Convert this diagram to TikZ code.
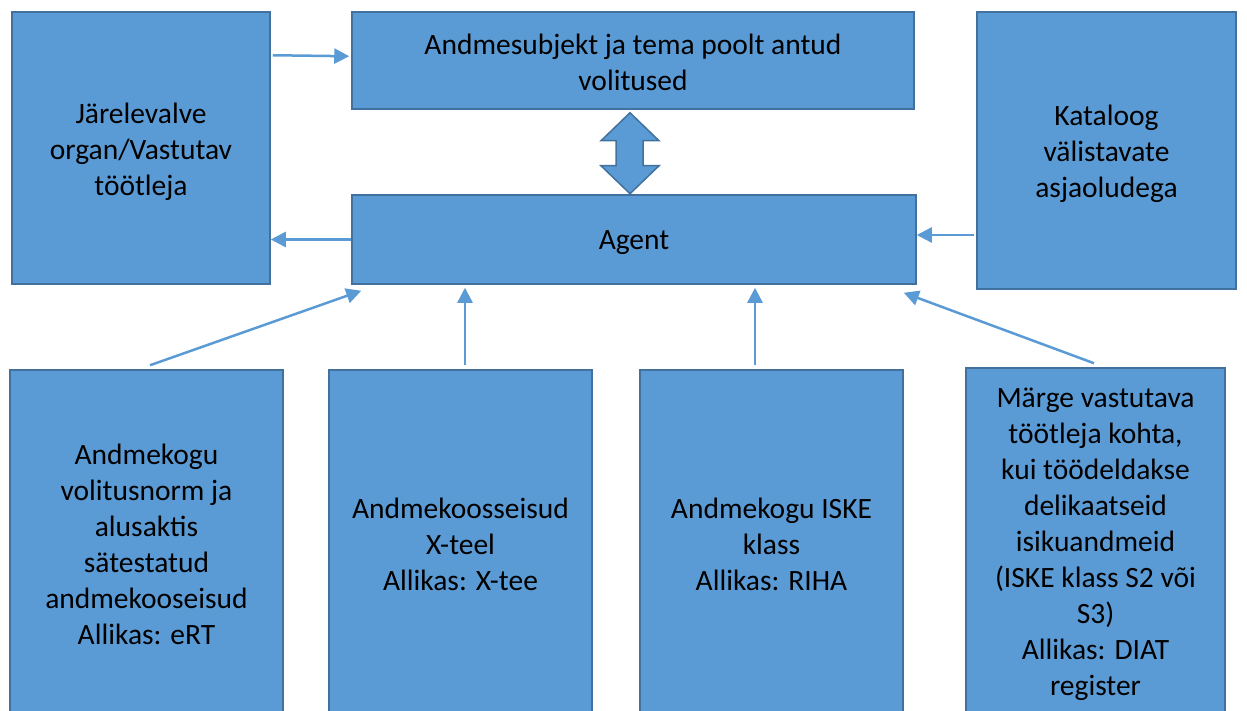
\documentclass[tikz,border=0pt]{standalone}
\usepackage{fontspec}
\setmainfont{Carlito}
\usetikzlibrary{arrows.meta,calc}
\definecolor{boxfill}{HTML}{5B9BD5}
\definecolor{boxline}{HTML}{41719C}
\begin{document}
\begin{tikzpicture}[x=1pt,y=-1pt,
  box/.style={draw=boxline,fill=boxfill,line width=1.5pt,rectangle,inner sep=0pt},
  lbl/.style={align=center,inner sep=0pt,font=\fontsize{29.5}{36}\selectfont,text=black,yshift=-3.5pt},
  arr/.style={draw=boxfill,line width=2.5pt,-{Triangle[length=15pt,width=15pt]}},
  dbl/.style={draw=boxline,fill=boxfill,line width=1.5pt,line join=miter}]
\useasboundingbox (0,0) rectangle (1247,711);
\node[box,minimum width=258,minimum height=272,label={[lbl]center:{Järelevalve\\organ/Vastutav\\töötleja}}] (sup) at (141,148) {};
\node[box,minimum width=562,minimum height=97,label={[lbl,yshift=1.5pt]center:{Andmesubjekt ja tema poolt antud\\volitused}}] (top) at (633,60.5) {};
\node[box,minimum width=259,minimum height=277,label={[lbl]center:{Kataloog\\välistavate\\asjaoludega}}] (kat) at (1106.5,150.5) {};
\node[box,minimum width=564,minimum height=89,label={[lbl]center:{Agent}}] (agent) at (634,239.5) {};
\node[box,minimum width=273,minimum height=345,label={[lbl,yshift=2pt]center:{Andmekogu\\volitusnorm ja\\alusaktis\\sätestatud\\andmekooseisud\\Allikas: eRT}}] (b1) at (146.5,542.5) {};
\node[box,minimum width=263,minimum height=345,label={[lbl,yshift=2pt]center:{Andmekoosseisud\\X-teel\\Allikas: X-tee}}] (b2) at (460.5,542.5) {};
\node[box,minimum width=263,minimum height=345,label={[lbl,yshift=2pt]center:{Andmekogu ISKE\\klass\\Allikas: RIHA}}] (b3) at (771.5,542.5) {};
\node[box,minimum width=259,minimum height=347,label={[lbl,yshift=1pt]center:{Märge vastutava\\töötleja kohta,\\kui töödeldakse\\delikaatseid\\isikuandmeid\\(ISKE klass S2 või\\S3)\\Allikas: DIAT\\register}}] (b4) at (1095.5,541.5) {};
% arrows
\draw[arr] ($(sup.north east)+(2,44)$) -- ($(top.north west)+(-2,45)$);
\draw[arr] (agent.west) -- (agent.west -| sup.east);
\draw[arr] ($(kat.west)+(-2,84.5)$) coordinate (sk) -- (sk -| agent.east);
\draw[arr] ($(b1.north)+(3.5,-4)$) -- ($(agent.south west)+(10,6)$);
\draw[arr] ($(b2.north)+(4.5,-4)$) coordinate (s2) -- ($(s2 |- agent.south)+(0,3)$);
\draw[arr] ($(b3.north)+(-16.5,-4)$) coordinate (s3) -- ($(s3 |- agent.south)+(0,3)$);
\draw[arr] ($(b4.north)+(-1.5,-4)$) -- ($(agent.south east)+(-13,8)$);
% double arrow
\coordinate (dt) at ($(top.south)+(-3,3)$);
\draw[dbl] (dt) -- ++(29,28) -- ++(-16,0) -- ++(0,25) -- ++(16,0) -- ++(-29,28)
  -- ++(-29,-28) -- ++(15,0) -- ++(0,-25) -- ++(-15,0) -- cycle;
\end{tikzpicture}
\end{document}
